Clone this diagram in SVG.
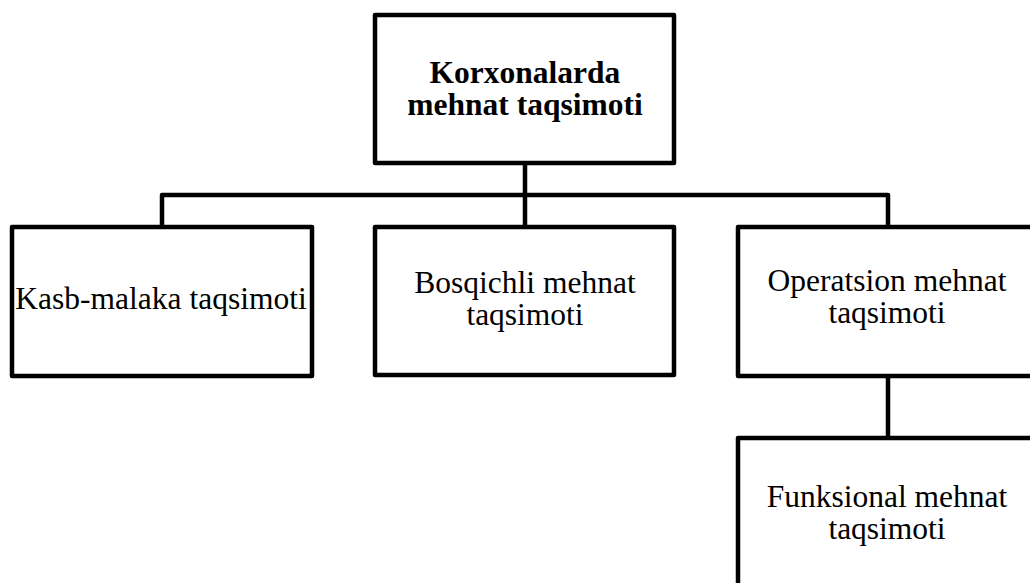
<svg xmlns="http://www.w3.org/2000/svg" width="1030" height="583" viewBox="0 0 1030 583">
  <style>
    .box { fill: #ffffff; stroke: #000000; stroke-width: 4.5; stroke-linejoin: round; }
    .wire { fill: none; stroke: #000000; stroke-width: 4.5; stroke-linejoin: round; }
    .lbl { font-family: "Liberation Serif", "Times New Roman", serif; font-size: 31.5px; fill: #000000; text-anchor: middle; }
    .bold { font-weight: bold; }
  </style>
  <rect width="1030" height="583" fill="#ffffff"/>

  <!-- connectors -->
  <g id="connectors">
    <path class="wire" d="M525 163 V227"/>
    <path class="wire" d="M162 227 V195 H888 V227"/>
    <path class="wire" d="M888 376 V438"/>
  </g>

  <!-- root -->
  <g id="root">
    <rect class="box" x="375" y="15" width="299" height="148"/>
    <text class="lbl bold" x="525" y="82.5">Korxonalarda<tspan x="525" dy="32">mehnat taqsimoti</tspan></text>
  </g>

  <g id="kasb">
    <rect class="box" x="12" y="227" width="300" height="149"/>
    <text class="lbl" x="161" y="309">Kasb-malaka taqsimoti</text>
  </g>

  <g id="bosqichli">
    <rect class="box" x="375" y="227" width="299" height="148"/>
    <text class="lbl" x="525" y="292.5">Bosqichli mehnat<tspan x="525" dy="32">taqsimoti</tspan></text>
  </g>

  <g id="operatsion">
    <rect class="box" x="738" y="227" width="300" height="149"/>
    <text class="lbl" x="887" y="291">Operatsion mehnat<tspan x="887" dy="32">taqsimoti</tspan></text>
  </g>

  <g id="funksional">
    <rect class="box" x="738" y="438" width="300" height="160"/>
    <text class="lbl" x="887" y="507">Funksional mehnat<tspan x="887" dy="32">taqsimoti</tspan></text>
  </g>
</svg>
